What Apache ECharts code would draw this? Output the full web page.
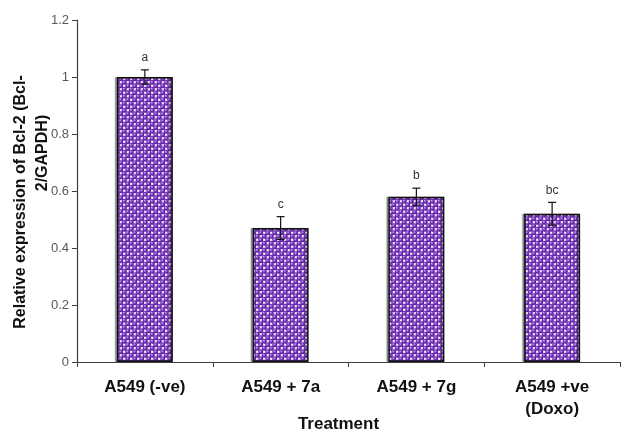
<!DOCTYPE html>
<html>
<head>
<meta charset="utf-8">
<script src="https://cdn.jsdelivr.net/npm/echarts@6/dist/echarts.min.js"></script>
<style>
  html, body { margin: 0; padding: 0; background: #fff; }
  #chart { width: 624px; height: 434px; }
</style>
</head>
<body>
<div id="chart"></div>
<script>
// Treatment groups and measured Bcl-2 expression (relative to GAPDH)
const categories = ['A549 (-ve)', 'A549 + 7a', 'A549 + 7g', 'A549 +ve\n(Doxo)'];
const means = [1.00, 0.47, 0.58, 0.52];
const errors = [0.025, 0.04, 0.03, 0.04];
const letters = ['a', 'c', 'b', 'bc'];
const yMin = 0, yMax = 1.2, yStep = 0.2;

// Dotted sphere fill tile for the bars
function makeDotTile() {
  const s = 7;
  const c = document.createElement('canvas');
  c.width = s; c.height = s;
  const g = c.getContext('2d');
  g.fillStyle = '#ffffff';
  g.fillRect(0, 0, s, s);
  const h = s / 2;
  const dots = [];
  for (let dx = -1; dx <= 1; dx++) {
    for (let dy = -1; dy <= 1; dy++) {
      dots.push([h / 2 + dx * s, h / 2 + dy * s]);
      dots.push([h / 2 + h + dx * s, h / 2 + h + dy * s]);
    }
  }
  dots.forEach(([x, y]) => {
    const grad = g.createRadialGradient(x - 0.7, y - 0.7, 0.2, x, y, 2.6);
    grad.addColorStop(0, '#c9a6ee');
    grad.addColorStop(0.45, '#7b36c6');
    grad.addColorStop(1, '#4f1690');
    g.fillStyle = grad;
    g.beginPath();
    g.arc(x, y, 2.5, 0, Math.PI * 2);
    g.fill();
  });
  return c;
}

const chart = echarts.init(document.getElementById('chart'));

const errorData = means.map((m, i) => [i, m - errors[i], m + errors[i], letters[i]]);

chart.setOption({
  backgroundColor: '#ffffff',
  animation: false,
  grid: { left: 77, right: 4, top: 20, bottom: 72, outerBoundsMode: 'none', containLabel: false },
  xAxis: {
    type: 'category',
    data: categories,
    axisLine: { lineStyle: { color: '#404040', width: 1.2 } },
    axisTick: { show: true, length: 5, alignWithLabel: false, lineStyle: { color: '#404040' } },
    axisLabel: {
      color: '#111', fontFamily: 'Arial, Liberation Sans', fontWeight: 'bold',
      fontSize: 17, margin: 14, lineHeight: 22, interval: 0
    },
    name: 'Treatment',
    nameLocation: 'middle',
    nameGap: 54,
    nameMoveOverlap: false,
    nameTextStyle: { color: '#111', fontFamily: 'Arial, Liberation Sans', fontWeight: 'bold', fontSize: 17, padding: [0, 20, 0, 0] }
  },
  yAxis: {
    type: 'value',
    min: yMin, max: yMax, interval: yStep,
    splitLine: { show: false },
    axisLine: { show: true, lineStyle: { color: '#404040', width: 1.2 } },
    axisTick: { show: true, length: 5, lineStyle: { color: '#404040' } },
    axisLabel: { color: '#595959', fontFamily: 'Arial, Liberation Sans', fontSize: 13, margin: 8 }
  },
  graphic: [
    {
      type: 'text', rotation: Math.PI / 2, x: 21, y: 202,
      style: {
        text: 'Relative expression of Bcl-2 (Bcl-',
        fill: '#111', font: 'bold 16px Arial, Liberation Sans',
        textAlign: 'center', textVerticalAlign: 'middle'
      }
    },
    {
      type: 'text', rotation: Math.PI / 2, x: 43, y: 153,
      style: {
        text: '2/GAPDH)',
        fill: '#111', font: 'bold 16px Arial, Liberation Sans',
        textAlign: 'center', textVerticalAlign: 'middle'
      }
    }
  ],
  series: [
    {
      type: 'bar',
      data: means,
      barWidth: 56,
      itemStyle: {
        color: { image: makeDotTile(), repeat: 'repeat' },
        borderColor: '#111',
        borderWidth: 1.5,
        shadowColor: 'rgba(0,0,0,0.35)',
        shadowBlur: 1,
        shadowOffsetX: -2,
        shadowOffsetY: 0
      }
    },
    {
      type: 'custom',
      data: errorData,
      z: 5,
      renderItem: function (params, api) {
        const x = api.value(0);
        const lo = api.coord([x, api.value(1)]);
        const hi = api.coord([x, api.value(2)]);
        const cap = 4;
        const stroke = { stroke: '#111', lineWidth: 1.2 };
        return {
          type: 'group',
          children: [
            { type: 'line', shape: { x1: hi[0], y1: hi[1], x2: lo[0], y2: lo[1] }, style: stroke },
            { type: 'line', shape: { x1: hi[0] - cap, y1: hi[1], x2: hi[0] + cap, y2: hi[1] }, style: stroke },
            { type: 'line', shape: { x1: lo[0] - cap, y1: lo[1], x2: lo[0] + cap, y2: lo[1] }, style: stroke },
            {
              type: 'text', x: hi[0], y: hi[1] - 12,
              style: {
                text: api.value(3), fill: '#333', font: '12px Arial, Liberation Sans',
                textAlign: 'center', textVerticalAlign: 'middle'
              }
            }
          ]
        };
      }
    }
  ]
});
</script>
</body>
</html>
